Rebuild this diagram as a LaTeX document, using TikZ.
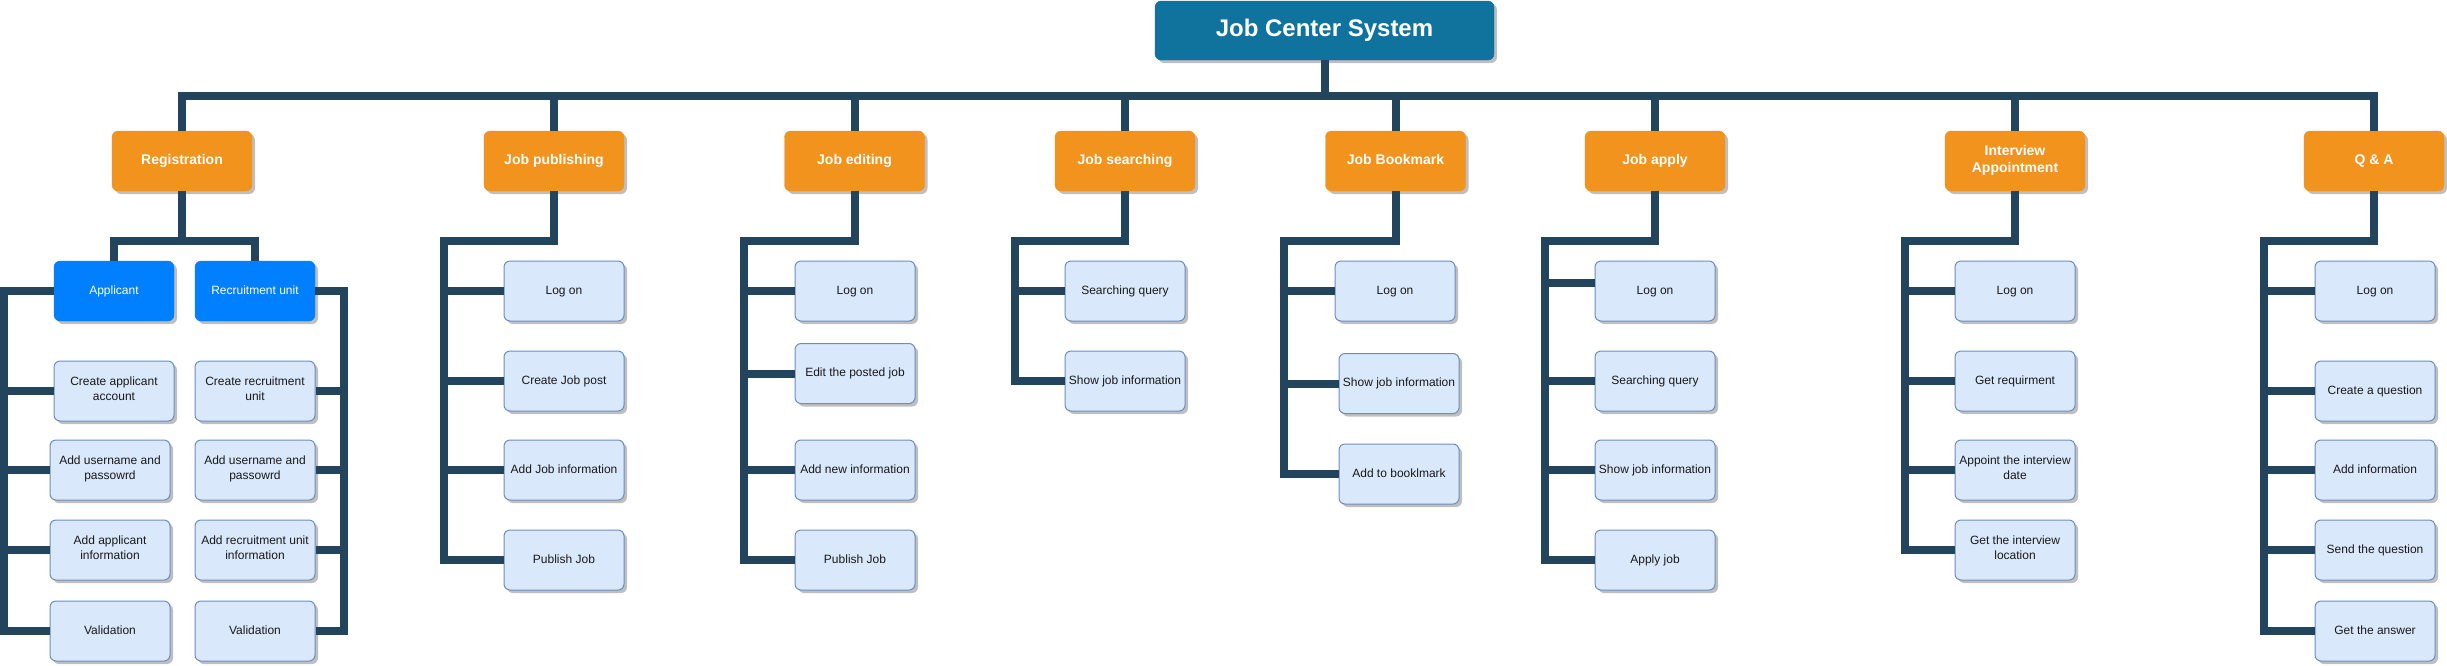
\documentclass[tikz,border=0pt]{standalone}
\usepackage{fontspec}
\setmainfont{Liberation Sans}
\usepackage{tikz}
\usetikzlibrary{shadows}
\definecolor{rootcol}{HTML}{10739E}
\definecolor{headcol}{HTML}{F2931E}
\definecolor{subcol}{HTML}{007FFF}
\definecolor{leaffill}{HTML}{DAE8FC}
\definecolor{leafline}{HTML}{6C8EBF}
\definecolor{linkcol}{HTML}{23445D}
\tikzstyle{boxshadow}=[drop shadow={shadow xshift=3pt,shadow yshift=-3pt,fill=black!25,opacity=1}]
\tikzstyle{root}=[rectangle,rounded corners=6pt,fill=rootcol,draw=rootcol,boxshadow,execute at begin node=\strut,
text=white,font=\bfseries\fontsize{24}{28}\selectfont,minimum width=339pt,minimum height=59pt]
\tikzstyle{head}=[rectangle,rounded corners=6pt,fill=headcol,draw=headcol,boxshadow,execute at begin node=\strut,
text=white,align=center,font=\bfseries\fontsize{14}{17}\selectfont,minimum width=140pt,minimum height=60pt]
\tikzstyle{sub}=[rectangle,rounded corners=6pt,fill=subcol,draw=subcol,boxshadow,execute at begin node=\strut,
text=white,font=\fontsize{12}{15}\selectfont,minimum width=120pt,minimum height=60pt]
\tikzstyle{leaf}=[rectangle,rounded corners=6pt,fill=leaffill,draw=leafline,line width=1pt,boxshadow,execute at begin node=\strut,
text=black!90,align=center,font=\fontsize{12}{15}\selectfont,minimum width=120pt,minimum height=60pt,inner sep=2pt]
\tikzstyle{link}=[draw=linkcol,line width=8pt,line join=miter]

\begin{document}
\begin{tikzpicture}[x=1pt,y=-1pt]
\useasboundingbox (0,0) rectangle (2447,665);

\node[root] (root) at (1324.5,30.5) {Job Center System};

\node[head] (reg) at (182,161) {Registration};
\node[head] (pub) at (554,161) {Job publishing};
\node[head] (edit) at (854.5,161) {Job editing};
\node[head] (search) at (1125,161) {Job searching};
\node[head] (bmark) at (1395.5,161) {Job Bookmark};
\node[head] (apply) at (1655,161) {Job apply};
\node[head] (intv) at (2015,161) {Interview\\Appointment};
\node[head] (qa) at (2374,161) {Q \& A};

\node[sub] (app) at (114,291) {Applicant};
\node[sub] (rec) at (255,291) {Recruitment unit};

\node[leaf] (app1) at (114,391) {Create applicant\\account};
\node[leaf] (app2) at (110,470) {Add username and\\passowrd};
\node[leaf] (app3) at (110,550) {Add applicant\\information};
\node[leaf] (app4) at (110,631) {Validation};

\node[leaf] (rec1) at (255,391) {Create recruitment\\unit};
\node[leaf] (rec2) at (255,470) {Add username and\\passowrd};
\node[leaf] (rec3) at (255,550) {Add recruitment unit\\information};
\node[leaf] (rec4) at (255,631) {Validation};

\node[leaf] (pub1) at (564,291) {Log on};
\node[leaf] (pub2) at (564,381) {Create Job post};
\node[leaf] (pub3) at (564,470) {Add Job information};
\node[leaf] (pub4) at (564,560) {Publish Job};

\node[leaf] (edit1) at (855,291) {Log on};
\node[leaf] (edit2) at (855,373.5) {Edit the posted job};
\node[leaf] (edit3) at (855,470) {Add new information};
\node[leaf] (edit4) at (855,560) {Publish Job};

\node[leaf] (search1) at (1125,291) {Searching query};
\node[leaf] (search2) at (1125,381) {Show job information};

\node[leaf] (bmark1) at (1395,291) {Log on};
\node[leaf] (bmark2) at (1399,383.5) {Show job information};
\node[leaf] (bmark3) at (1399,474) {Add to booklmark};

\node[leaf] (apply1) at (1655,291) {Log on};
\node[leaf] (apply2) at (1655,381) {Searching query};
\node[leaf] (apply3) at (1655,470) {Show job information};
\node[leaf] (apply4) at (1655,560) {Apply job};

\node[leaf] (intv1) at (2015,291) {Log on};
\node[leaf] (intv2) at (2015,381) {Get requirment};
\node[leaf] (intv3) at (2015,470) {Appoint the interview\\date};
\node[leaf] (intv4) at (2015,550) {Get the interview\\location};

\node[leaf] (qa1) at (2375,291) {Log on};
\node[leaf] (qa2) at (2375,391) {Create a question};
\node[leaf] (qa3) at (2375,470) {Add information};
\node[leaf] (qa4) at (2375,550) {Send the question};
\node[leaf] (qa5) at (2375,631) {Get the answer};

% bends
\coordinate (top) at (1324.5,95.5);
\coordinate (regb) at (182,240.5);
\coordinate (appb) at (4,291);
\coordinate (recb) at (344,291);
\coordinate (pubb) at (444,240.5);
\coordinate (editb) at (744,240.5);
\coordinate (searchb) at (1015,240.5);
\coordinate (bmarkb) at (1284,240.5);
\coordinate (applyb) at (1545,240.5);
\coordinate (intvb) at (1905,240.5);
\coordinate (qab) at (2264,240.5);

\draw[link] (root.south) -- (top) -| (reg.north);
\draw[link] (root.south) -- (top) -| (pub.north);
\draw[link] (root.south) -- (top) -| (edit.north);
\draw[link] (root.south) -- (top) -| (search.north);
\draw[link] (root.south) -- (top) -| (bmark.north);
\draw[link] (root.south) -- (top) -| (apply.north);
\draw[link] (root.south) -- (top) -| (intv.north);
\draw[link] (root.south) -- (top) -| (qa.north);

\draw[link] (reg.south) -- (regb) -| (app.north);
\draw[link] (regb) -| (rec.north);

\draw[link] (app.west) -- (appb) |- (app1.west);
\draw[link] (app.west) -- (appb) |- (app2.west);
\draw[link] (app.west) -- (appb) |- (app3.west);
\draw[link] (app.west) -- (appb) |- (app4.west);
\draw[link] (rec.east) -- (recb) |- (rec1.east);
\draw[link] (rec.east) -- (recb) |- (rec2.east);
\draw[link] (rec.east) -- (recb) |- (rec3.east);
\draw[link] (rec.east) -- (recb) |- (rec4.east);

\draw[link] (pub.south) |- (pubb) |- (pub1.west);
\draw[link] (pub.south) |- (pubb) |- (pub2.west);
\draw[link] (pub.south) |- (pubb) |- (pub3.west);
\draw[link] (pub.south) |- (pubb) |- (pub4.west);

\draw[link] (edit.south) |- (editb) |- (edit1.west);
\draw[link] (edit.south) |- (editb) |- (edit2.west);
\draw[link] (edit.south) |- (editb) |- (edit3.west);
\draw[link] (edit.south) |- (editb) |- (edit4.west);

\draw[link] (search.south) |- (searchb) |- (search1.west);
\draw[link] (search.south) |- (searchb) |- (search2.west);

\draw[link] (bmark.south) |- (bmarkb) |- (bmark1.west);
\draw[link] (bmark.south) |- (bmarkb) |- (bmark2.west);
\draw[link] (bmark.south) |- (bmarkb) |- (bmark3.west);

\draw[link] (apply.south) |- (applyb) |- ([yshift=8pt]apply1.west);
\draw[link] (apply.south) |- (applyb) |- (apply2.west);
\draw[link] (apply.south) |- (applyb) |- (apply3.west);
\draw[link] (apply.south) |- (applyb) |- (apply4.west);

\draw[link] (intv.south) |- (intvb) |- (intv1.west);
\draw[link] (intv.south) |- (intvb) |- (intv2.west);
\draw[link] (intv.south) |- (intvb) |- (intv3.west);
\draw[link] (intv.south) |- (intvb) |- (intv4.west);

\draw[link] (qa.south) |- (qab) |- (qa1.west);
\draw[link] (qa.south) |- (qab) |- (qa2.west);
\draw[link] (qa.south) |- (qab) |- (qa3.west);
\draw[link] (qa.south) |- (qab) |- (qa4.west);
\draw[link] (qa.south) |- (qab) |- (qa5.west);

\end{tikzpicture}
\end{document}
